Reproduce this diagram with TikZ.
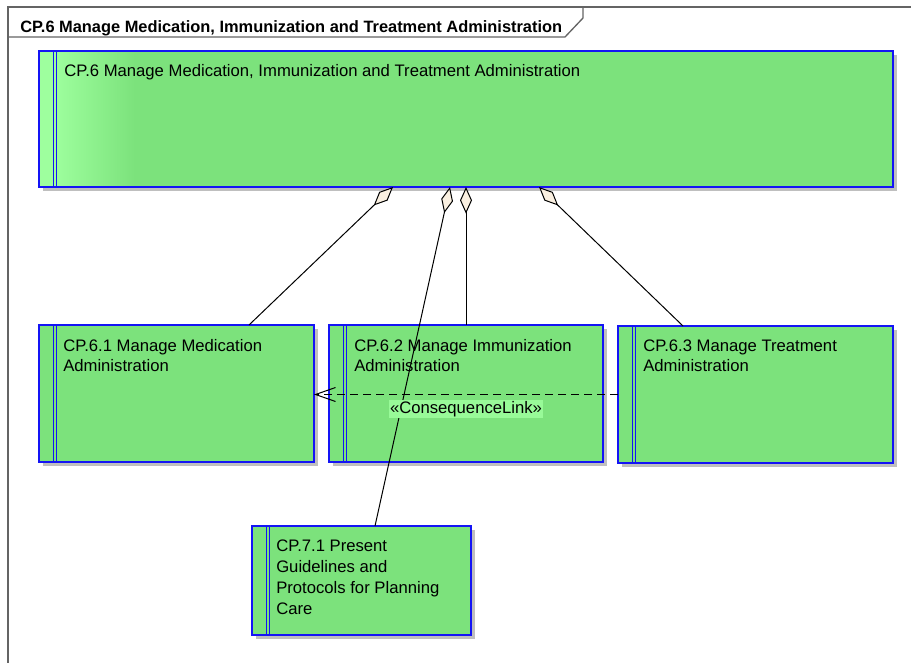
\documentclass[tikz,border=0pt]{standalone}
\usepackage{fontspec}
\setmainfont{Liberation Sans}
\usetikzlibrary{arrows.meta, calc, fit, shadows}
\definecolor{eagreen}{RGB}{124,226,124}
\definecolor{ealight}{RGB}{158,255,158}
\definecolor{labelgreen}{RGB}{152,250,152}
\definecolor{eablue}{RGB}{20,20,245}
\definecolor{diamondfill}{RGB}{250,240,225}
\definecolor{framegray}{RGB}{100,100,100}

\begin{document}
\begin{tikzpicture}[
x=0.75pt, y=-0.75pt,
texts/.style = {text=black, font=\fontsize{12.5}{15}\selectfont},
titletexts/.style = {text=black, font=\bfseries\fontsize{12.3}{15}\selectfont},
frameline/.style = {draw=framegray, line width=1pt},
feature/.style = {draw=eablue, line width=1.1pt, fill=eagreen, rectangle, inner sep=0pt, outer sep=0pt,
  drop shadow={shadow xshift=3pt, shadow yshift=-3pt, fill=black!25, opacity=1}},
featuretext/.style = {texts, anchor=north west, inner sep=0pt, align=left},
stripe/.style = {draw=eablue, line width=0.7pt},
whole/.style = {draw=black, line width=0.75pt, arrows={Diamond[length=20pt, width=9pt, fill=diamondfill]-}},
consequence/.style = {draw=black, line width=0.75pt, dash pattern=on 6pt off 3.75pt, arrows={-Straight Barb[length=15pt, width=10.5pt]}},
stereo/.style = {texts, fill=labelgreen, inner sep=1pt}
]
\useasboundingbox (0,0) rectangle (911,662);

% diagram frame
\draw[frameline] (8,670) -- (8,7) -- (920,7);
\draw[frameline] (8,37) -- (565,37) -- (583,18) -- (583,7);
\node[titletexts, anchor=base west, inner sep=0pt] (title) at (20,32)
	{CP.6 Manage Medication, Immunization and Treatment Administration};

% parent feature
\node[feature, fit={(39,51) (893,187)}] (manage) {};
\fill[ealight] (manage.north west) rectangle ($(manage.south west)+(14,0)$);
\shade[left color=ealight, right color=eagreen] ($(manage.north west)+(14,0)$) rectangle ($(manage.south west)+(96,0)$);
\draw[draw=eablue, line width=1.1pt] (manage.north west) rectangle (manage.south east);
\node[featuretext] (managetext) at ($(manage.north west)+(25,13)$)
	{CP.6 Manage Medication, Immunization and Treatment Administration};

% child features
\node[feature, fit={(39,325) (314,462)}] (med) {};
\node[featuretext] (medtext) at ($(med.north west)+(24,14)$)
	{CP.6.1 Manage Medication\\Administration};
\node[feature, fit={(329,325) (603,462)}] (imm) {};
\node[featuretext] (immtext) at ($(imm.north west)+(25,14)$)
	{CP.6.2 Manage Immunization\\Administration};
\node[feature, fit={(618,326) (893,463)}] (treat) {};
\node[featuretext] (treattext) at ($(treat.north west)+(25,14)$)
	{CP.6.3 Manage Treatment\\Administration};
\node[feature, fit={(252,526) (471,635)}] (plan) {};
\node[featuretext, font=\fontsize{12.5}{15.75}\selectfont] (plantext) at ($(plan.north west)+(24,14)$)
	{CP.7.1 Present\\Guidelines and\\Protocols for Planning\\Care};

% double stripes
\foreach \feat in {manage, med, imm, treat, plan} {
	\draw[stripe] ($(\feat.north west)+(14,0)$) -- ($(\feat.south west)+(14,0)$);
	\draw[stripe] ($(\feat.north west)+(17,0)$) -- ($(\feat.south west)+(17,0)$);
}

% aggregations
\draw[whole] ($(manage.south west)+(354,0)$) -- ($(med.north west)+(210,0)$);
\draw[whole] ($(manage.south west)+(411,0)$) -- ($(plan.north west)+(123,0)$);
\draw[whole] ($(manage.south west)+(427,0)$) -- ($(imm.north west)+(137,0)$);
\draw[whole] ($(manage.south west)+(500,0)$) -- ($(treat.north west)+(65,0)$);

% consequence link
\draw[consequence] (treat.west) -- (treat.west -| med.east)
	node[midway, below=3.5pt, stereo] (conslabel) {«ConsequenceLink»};
\end{tikzpicture}
\end{document}
